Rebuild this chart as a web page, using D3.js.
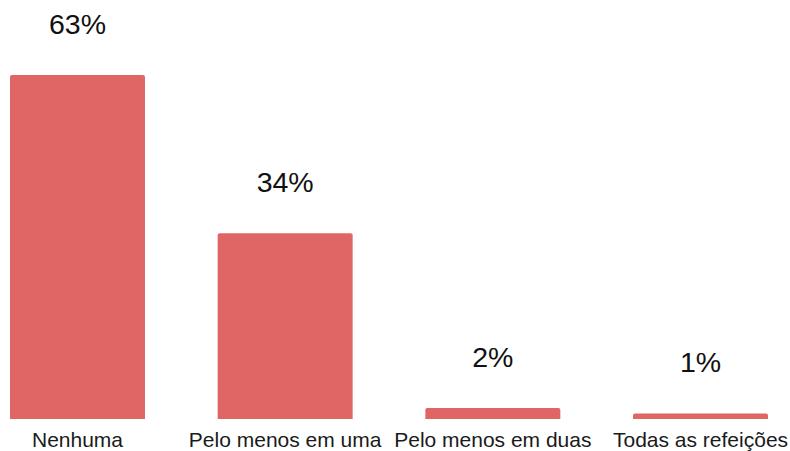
<!DOCTYPE html>
<html>
<head>
<meta charset="utf-8">
<script src="https://cdn.jsdelivr.net/npm/d3@7"></script>
<style>
  html, body { margin: 0; padding: 0; background: #fff; }
  svg { display: block; font-family: "Liberation Sans", Arial, sans-serif; }
</style>
</head>
<body>
<svg id="chart" width="790" height="451"></svg>
<script>
// Share of respondents by number of meals
const categories = ["Nenhuma", "Pelo menos em uma", "Pelo menos em duas", "Todas as refeições"];
const values = [63, 34, 2, 1];

const width = 790, height = 451;
const baseline = 419;
const svg = d3.select("#chart");

const x = d3.scaleBand()
  .domain(categories)
  .range([10, 768])
  .paddingInner(0.35)
  .paddingOuter(0);

const y = d3.scaleLinear()
  .domain([0, 63])
  .range([baseline, 75]);

// bars with slightly rounded top corners
const r = 2;
function barPath(d, i) {
  const x0 = x(categories[i]), w = x.bandwidth();
  const y0 = y(d), h = baseline - y0;
  const rr = Math.min(r, h);
  return `M${x0},${baseline} V${y0 + rr} Q${x0},${y0} ${x0 + rr},${y0} H${x0 + w - rr} Q${x0 + w},${y0} ${x0 + w},${y0 + rr} V${baseline} Z`;
}

svg.append("g")
  .selectAll("path")
  .data(values)
  .join("path")
  .attr("d", barPath)
  .attr("fill", "#e06666");

// value labels
svg.append("g")
  .selectAll("text")
  .data(values)
  .join("text")
  .attr("x", (d, i) => x(categories[i]) + x.bandwidth() / 2)
  .attr("y", d => y(d) - 41.5)
  .attr("text-anchor", "middle")
  .attr("font-size", 28.5)
  .attr("fill", "#111")
  .text(d => d + "%");

// category axis labels
const axis = d3.axisBottom(x).tickSize(0).tickPadding(0);
const gx = svg.append("g")
  .attr("transform", `translate(0,${baseline})`)
  .call(axis);
gx.select(".domain").remove();
gx.selectAll("text")
  .attr("dy", null)
  .attr("y", 28)
  .attr("font-size", 21)
  .attr("font-family", "'Liberation Sans', Arial, sans-serif")
  .attr("fill", "#1a1a1a");
</script>
</body>
</html>
